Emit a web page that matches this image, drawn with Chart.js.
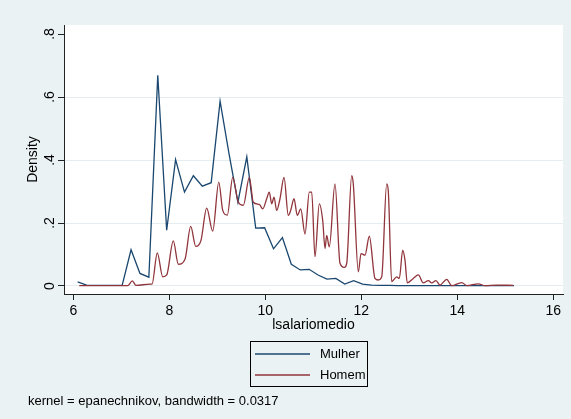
<!DOCTYPE html>
<html>
<head>
<meta charset="utf-8">
<script src="https://cdn.jsdelivr.net/npm/chart.js@4"></script>
<style>
  html, body { margin: 0; padding: 0; background: #eaf2f3; }
  canvas { display: block; }
</style>
</head>
<body>
<canvas id="kdChart" width="571" height="419"></canvas>
<script>
const xTicks = [6, 8, 10, 12, 14, 16];
const yTicks = [0, 0.2, 0.4, 0.6, 0.8];
const yTickLabels = ["0", ".2", ".4", ".6", ".8"];
const seriesNames = ["Mulher", "Homem"];

// Mulher: density on an even grid of 50 points (6.09 .. 15.18)
const mulherStart = 6.09;
const mulherStep = 0.1855;
const mulherDensity = [
  0.013, 0.003, 0.002, 0.002, 0.002, 0.002, 0.115, 0.040, 0.028, 0.669,
  0.177, 0.401, 0.298, 0.350, 0.317, 0.328, 0.587, 0.420, 0.266, 0.410,
  0.184, 0.185, 0.118, 0.154, 0.069, 0.051, 0.053, 0.035, 0.022, 0.024,
  0.006, 0.017, 0.006, 0.003, 0.002, 0.002, 0.001, 0.001, 0.001, 0.001,
  0.001, 0.001, 0.001, 0.001, 0.001, 0.001, 0.001, 0.001, 0.001, 0.001
];

// Homem: turning points
const homemX = [
  6.125, 7.133, 7.229, 7.306, 7.598, 7.640, 7.750, 7.863, 7.946, 8.083,
  8.188, 8.327, 8.446, 8.550, 8.660, 8.779, 8.904, 9.031, 9.113, 9.208,
  9.321, 9.438, 9.542, 9.667, 9.750, 9.875, 9.946, 10.029, 10.083, 10.133,
  10.181, 10.238, 10.306, 10.390, 10.479, 10.529, 10.598, 10.667, 10.738, 10.827,
  10.917, 10.967, 11.035, 11.125, 11.196, 11.244, 11.279, 11.333, 11.452, 11.556,
  11.646, 11.696, 11.800, 11.833, 11.938, 11.994, 12.077, 12.167, 12.285, 12.354,
  12.425, 12.529, 12.563, 12.633, 12.738, 12.792, 12.863, 12.910, 12.958, 13.083,
  13.188, 13.292, 13.396, 13.467, 13.556, 13.640, 13.779, 13.883, 14.092, 14.202,
  14.438, 14.577, 14.821, 15.167
];
const homemDensity = [
  0.001, 0.001, 0.016, 0.002, 0.006, 0.006, 0.105, 0.029, 0.035, 0.143,
  0.069, 0.085, 0.189, 0.126, 0.145, 0.247, 0.174, 0.330, 0.240, 0.225,
  0.345, 0.266, 0.256, 0.345, 0.266, 0.259, 0.245, 0.277, 0.298, 0.261,
  0.282, 0.240, 0.277, 0.345, 0.224, 0.240, 0.277, 0.224, 0.245, 0.165,
  0.298, 0.298, 0.093, 0.261, 0.208, 0.119, 0.161, 0.124, 0.324, 0.072,
  0.059, 0.072, 0.350, 0.324, 0.045, 0.103, 0.098, 0.158, 0.024, 0.019,
  0.029, 0.324, 0.300, 0.014, 0.029, 0.024, 0.114, 0.082, 0.010, 0.024,
  0.035, 0.010, 0.017, 0.010, 0.017, 0.003, 0.021, 0.001, 0.011, 0.001,
  0.007, 0.001, 0.003, 0.002
];

const navy = "#1a476f";
const maroon = "#90353b";
const font = "'Liberation Sans', Arial, sans-serif";

const mulherPoints = mulherDensity.map((d, i) => ({ x: mulherStart + i * mulherStep, y: d }));
const homemPoints = homemX.map((x, i) => ({ x: x, y: homemDensity[i] }));

// background, plot region, rotated y labels, titles, legend box and note
const stataLook = {
  id: "stataLook",
  beforeDraw(chart) {
    const { ctx, chartArea: a } = chart;
    ctx.save();
    ctx.fillStyle = "#eaf2f3";
    ctx.fillRect(0, 0, chart.width, chart.height);
    ctx.fillStyle = "#ffffff";
    ctx.fillRect(a.left, a.top, a.right - a.left, a.bottom - a.top);
    ctx.restore();
  },
  afterDraw(chart) {
    const { ctx, chartArea: a, scales } = chart;
    ctx.save();
    ctx.fillStyle = "#000";
    ctx.textAlign = "center";
    ctx.textBaseline = "middle";
    ctx.font = "14px " + font;

    yTicks.forEach((v, i) => {
      const y = scales.y.getPixelForValue(v);
      ctx.save();
      ctx.translate(50, y);
      ctx.rotate(-Math.PI / 2);
      ctx.fillText(yTickLabels[i], 0, 0);
      ctx.restore();
    });

    ctx.save();
    ctx.translate(33, (a.top + a.bottom) / 2);
    ctx.rotate(-Math.PI / 2);
    ctx.fillText("Density", 0, 0);
    ctx.restore();

    ctx.fillText("lsalariomedio", (a.left + a.right) / 2, 325);

    // legend
    ctx.strokeStyle = "#000";
    ctx.lineWidth = 1;
    ctx.strokeRect(250.5, 341.5, 117, 45);
    const rows = [354, 375];
    ctx.font = "13px " + font;
    chart.data.datasets.forEach((ds, i) => {
      ctx.strokeStyle = ds.borderColor;
      ctx.lineWidth = 1.3;
      ctx.beginPath();
      ctx.moveTo(255, rows[i]);
      ctx.lineTo(310, rows[i]);
      ctx.stroke();
      ctx.textAlign = "left";
      ctx.fillText(ds.label, 320, rows[i]);
    });

    ctx.font = "13px " + font;
    ctx.textAlign = "left";
    ctx.fillText("kernel = epanechnikov, bandwidth = 0.0317", 28, 401);
    ctx.restore();
  }
};

new Chart(document.getElementById("kdChart"), {
  type: "line",
  data: {
    datasets: [
      {
        label: seriesNames[0],
        data: mulherPoints,
        borderColor: navy,
        borderWidth: 1.3,
        pointRadius: 0,
        tension: 0,
        order: 1,
      },
      {
        label: seriesNames[1],
        data: homemPoints,
        borderColor: maroon,
        borderWidth: 1.3,
        pointRadius: 0,
        cubicInterpolationMode: "monotone",
        order: 0,
      },
    ],
  },
  options: {
    responsive: false,
    animation: false,
    layout: { padding: { left: 0, top: 25, right: 8, bottom: 0 } },
    plugins: {
      legend: { display: false },
      tooltip: { enabled: false },
    },
    scales: {
      x: {
        type: "linear",
        min: 5.806,
        max: 16.202,
        afterBuildTicks: (axis) => { axis.ticks = xTicks.map(v => ({ value: v })); },
        afterFit: (axis) => { axis.height = 125; },
        border: { display: true, color: "#222", width: 1 },
        grid: { drawOnChartArea: false, drawTicks: true, tickLength: 6, tickColor: "#222" },
        ticks: {
          color: "#000",
          padding: 3,
          maxRotation: 0,
          font: { family: font, size: 14 },
          callback: (v) => String(v),
        },
      },
      y: {
        type: "linear",
        min: -0.0254,
        max: 0.8286,
        afterBuildTicks: (axis) => { axis.ticks = yTicks.map(v => ({ value: v })); },
        afterFit: (axis) => { axis.width = 64; },
        border: { display: true, color: "#222", width: 1 },
        grid: {
          color: (c) => (c.tick && c.tick.value === 0.8 ? "rgba(0,0,0,0)" : "#e4edf0"),
          tickColor: "#222",
          tickLength: 6,
          lineWidth: 1,
        },
        ticks: { display: false },
      },
    },
  },
  plugins: [stataLook],
});
</script>
</body>
</html>
